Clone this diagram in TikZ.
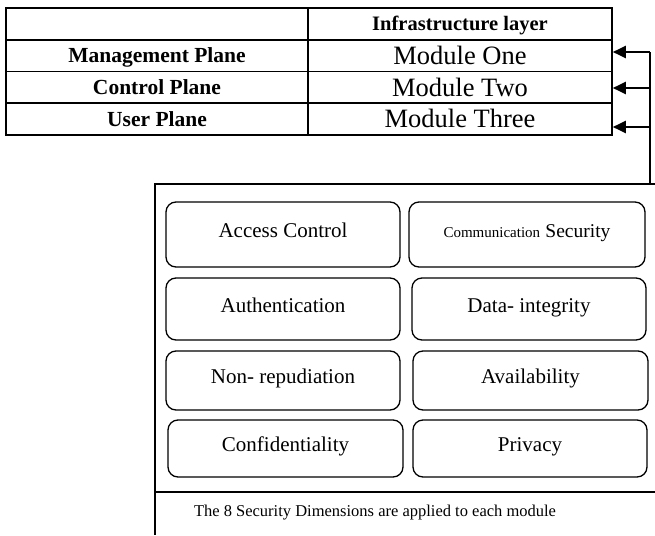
\documentclass[tikz,border=0pt]{standalone}
\usepackage{fontspec}
\setmainfont{Liberation Serif}
\usetikzlibrary{arrows.meta}
\begin{document}
\begin{tikzpicture}[x=1pt,y=-1pt,
  cell/.style={draw, line width=1.6pt, rectangle, inner sep=0pt, anchor=center},
  labcell/.style={cell, minimum width=302pt, font=\fontsize{21.5}{24}\selectfont\bfseries, text height=14pt, text depth=0pt},
  modcell/.style={cell, minimum width=304pt, font=\fontsize{26.5}{30}\selectfont, text height=17.5pt, text depth=0pt},
  dim/.style={draw, line width=1.3pt, rounded corners=10pt, inner sep=0pt, font=\fontsize{21}{24}\selectfont, text height=14pt, text depth=8pt},
  feed/.style={line width=2pt, -{Triangle[length=13pt,width=12pt]}},
  frame/.style={line width=1.3pt}
]
\useasboundingbox (0,0) rectangle (655,535);
% table
\node[labcell, minimum height=32pt] (h0) at (157,24) {};
\node[modcell, minimum height=32pt, font=\fontsize{20.5}{24}\selectfont\bfseries, text height=13.5pt] (h1) at (460,24) {Infrastructure layer};
\node[labcell, minimum height=31.5pt] (l1) at (157,55.75) {Management Plane};
\node[modcell, minimum height=31.5pt] (m1) at (460,55.75) {Module One};
\node[labcell, minimum height=31.5pt] (l2) at (157,87.25) {Control Plane};
\node[modcell, minimum height=31.5pt] (m2) at (460,87.25) {Module Two};
\node[labcell, minimum height=32pt] (l3) at (157,119) {User Plane};
\node[modcell, minimum height=32pt] (m3) at (460,119) {Module Three};
% feedback connector
\coordinate (j1) at (650,52);
\coordinate (j2) at (650,88);
\coordinate (j3) at (650,127);
\coordinate (jb) at (650,184);
\draw[line width=2pt] (j1) -- (jb);
\draw[feed] (j1) -- (j1 -| m1.east);
\draw[feed] (j2) -- (j2 -| m2.east);
\draw[feed] (j3) -- (j3 -| m3.east);
% lower frame
\coordinate (ftr) at (655,184);
\coordinate (ftl) at (155,184);
\coordinate (fbl) at (155,535);
\coordinate (sl) at (155,492);
\coordinate (sr) at (655,492);
\draw[frame] (ftr) -- (ftl) -- (fbl);
\draw[frame] (sl) -- (sr);
% dimensions
\node[dim, minimum width=234pt, minimum height=65pt] (d1) at (283,234.5) {Access Control};
\node[dim, minimum width=236pt, minimum height=65pt] (d2) at (527,234.5) {{\fontsize{15}{18}\selectfont Communication} {\fontsize{19.5}{22}\selectfont Security}};
\node[dim, minimum width=234pt, minimum height=62pt] (d3) at (283,309) {Authentication};
\node[dim, minimum width=234pt, minimum height=62pt] (d4) at (529,309) {Data- integrity};
\node[dim, minimum width=234pt, minimum height=59pt] (d5) at (283,380.5) {Non- repudiation};
\node[dim, minimum width=235pt, minimum height=59pt] (d6) at (530.5,380.5) {Availability};
\node[dim, minimum width=235pt, minimum height=57pt] (d7) at (285.5,448.5) {Confidentiality};
\node[dim, minimum width=234pt, minimum height=57pt] (d8) at (530,448.5) {Privacy};
\node[font=\fontsize{16.5}{20}\selectfont, inner sep=0pt] (note) at (375,513) {The 8 Security Dimensions are applied to each module};
\end{tikzpicture}
\end{document}
